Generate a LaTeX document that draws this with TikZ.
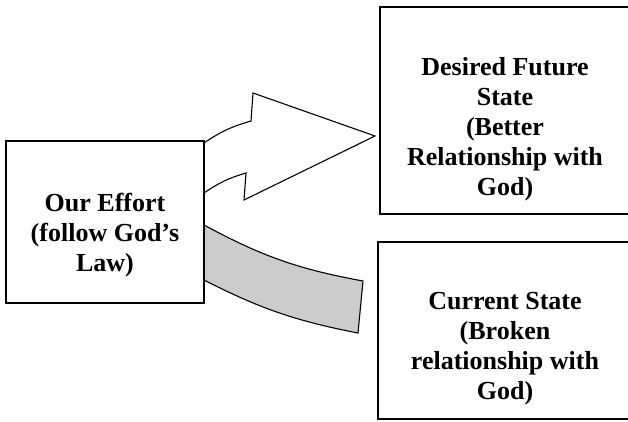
\documentclass[tikz,border=0pt]{standalone}
\usepackage{fontspec}
\setmainfont{Liberation Serif}
\begin{document}
\begin{tikzpicture}[x=1pt,y=1pt,
  box/.style={draw,line width=1.3pt,fill=white,inner sep=0pt},
  txt/.style={align=center,font=\fontsize{26}{30}\selectfont\bfseries},
  shp/.style={draw,line width=1.1pt,line join=miter}]
\clip (0,0) rectangle (628,421);
% arrows
\draw[shp,fill=white] (204,278) to[bend left=9] (251,300) -- (253,328) -- (375,285)
  -- (244,221) -- (246,248) to[bend right=9] (204,228) -- cycle;
\draw[shp,fill=black!20] (204,196) to[bend right=9] (363,140) -- (358,88)
  to[bend left=8] (204,141) -- cycle;
% boxes
\node[box,minimum width=198,minimum height=162] (effort) at (105,199) {};
\node[txt,yshift=-13] (efforttxt) at (effort) {Our Effort\\(follow God’s\\Law)};
\node[box,minimum width=250,minimum height=207] (future) at (505,310.5) {};
\node[txt,yshift=-18.5] (futuretxt) at (future) {Desired Future\\State\\(Better\\Relationship with\\God)};
\node[box,minimum width=254,minimum height=177] (current) at (505,90.5) {};
\node[txt,yshift=-18.5] (currenttxt) at (current) {Current State\\(Broken\\relationship with\\God)};
\end{tikzpicture}
\end{document}
